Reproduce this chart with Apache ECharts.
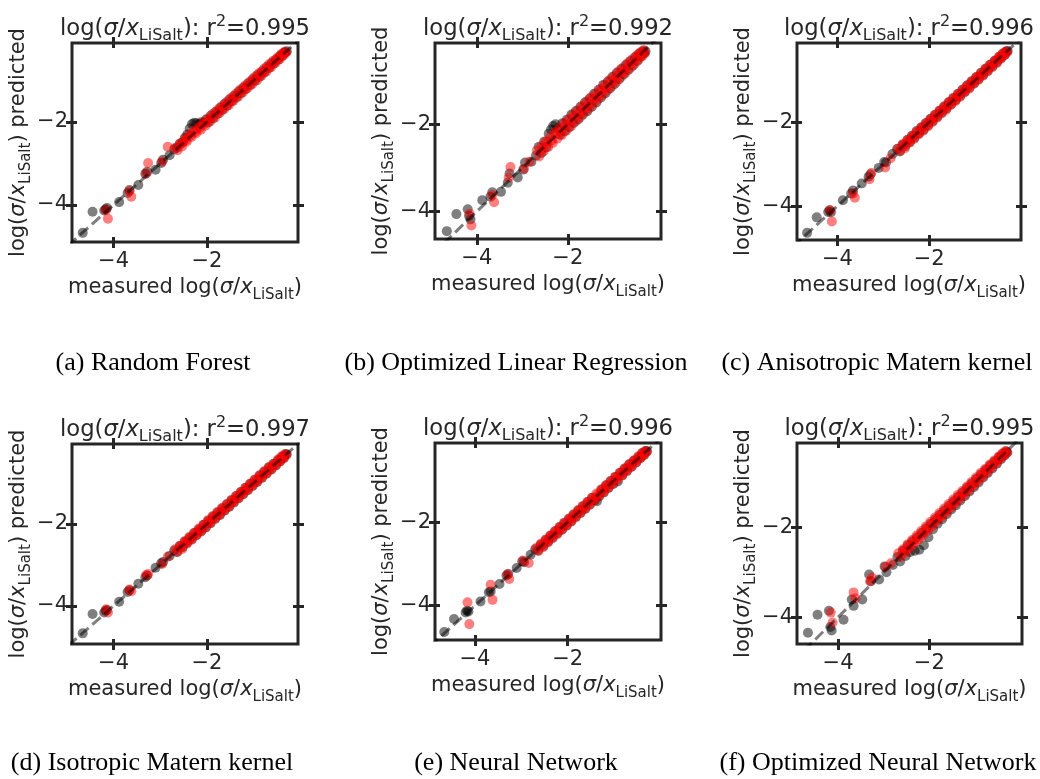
<!DOCTYPE html>
<html>
<head>
<meta charset="utf-8">
<script src="https://cdn.jsdelivr.net/npm/echarts@6/dist/echarts.min.js"></script>
<style>
  html, body { margin: 0; padding: 0; background: #fff; }
  #chart { width: 1040px; height: 779px; }
</style>
</head>
<body>
<div id="chart"></div>
<script>
// measured log(sigma/x) values, same split for every model
const trainMeasured = [
  -4.66, -4.45, -4.20, -4.17, -4.14, -3.88, -3.70, -3.66, -3.47, -3.32, -3.28, -3.10, -2.98, -2.94, -2.80,
  -2.70, -2.64, -2.58, -2.52, -2.47, -2.42, -2.37, -2.32, -2.27, -2.22,
  -2.17, -2.12, -2.07, -2.02, -1.97, -1.92, -1.87, -1.82, -1.77, -1.72,
  -1.67, -1.62, -1.57, -1.52, -1.47, -1.42, -1.37, -1.32, -1.27, -1.22,
  -1.17, -1.12, -1.07, -1.02, -0.97, -0.92, -0.87, -0.82, -0.77, -0.72,
  -0.67, -0.62, -0.57, -0.52, -0.47, -0.43, -0.39, -0.35, -0.32, -0.29
]
const testMeasured = [
  -4.16, -4.12, -3.66, -3.62, -3.30, -3.26, -2.96, -2.84,
  -2.68, -2.63, -2.58, -2.53, -2.48, -2.43, -2.38, -2.33, -2.28, -2.23,
  -2.18, -2.13, -2.08, -2.03, -1.98, -1.93, -1.88, -1.83, -1.78, -1.73,
  -1.68, -1.63, -1.58, -1.53, -1.48, -1.43, -1.38, -1.33, -1.28, -1.23,
  -1.18, -1.13, -1.08, -1.03, -0.98, -0.93, -0.88, -0.83, -0.78, -0.73,
  -0.68, -0.63, -0.58, -0.53, -0.48, -0.44, -0.40, -0.36, -0.33, -0.30,
  -2.55, -2.45, -2.35, -2.25, -2.15, -2.05, -1.95, -1.85, -1.75, -1.65, -1.55, -1.45,
  -1.35, -1.25, -1.15, -1.05, -0.95, -0.85, -0.75, -0.65, -0.55, -0.45, -0.37
]

// predicted values, one list per model
const rfTrain = [
  -4.67, -4.16, -4.13, -4.10, -4.07, -3.93, -3.71, -3.64, -3.52, -3.25, -3.20, -3.15, -2.99, -2.91, -2.80,
  -2.66, -2.62, -2.52, -2.49, -2.38, -2.30, -2.16, -2.05, -2.02, -2.03,
  -2.06, -2.01, -2.02, -1.94, -2.01, -1.85, -1.91, -1.76, -1.80, -1.66,
  -1.71, -1.56, -1.61, -1.46, -1.51, -1.37, -1.41, -1.26, -1.31, -1.17,
  -1.21, -1.07, -1.11, -0.97, -1.01, -0.87, -0.91, -0.78, -0.81, -0.68,
  -0.70, -0.58, -0.60, -0.49, -0.50, -0.40, -0.41, -0.33, -0.33, -0.30
]
const rfTest = [
  -4.12, -4.33, -3.67, -3.80, -3.24, -2.99, -2.95, -2.60,
  -2.62, -2.68, -2.53, -2.59, -2.41, -2.47, -2.31, -2.36, -2.21, -2.27,
  -2.12, -2.19, -2.02, -2.09, -1.92, -1.99, -1.81, -1.90, -1.72, -1.79,
  -1.62, -1.69, -1.52, -1.60, -1.42, -1.49, -1.32, -1.39, -1.22, -1.29,
  -1.12, -1.19, -1.03, -1.09, -0.92, -1.00, -0.82, -0.89, -0.72, -0.79,
  -0.62, -0.69, -0.53, -0.58, -0.44, -0.49, -0.36, -0.40, -0.31, -0.33,
  -2.53, -2.44, -2.33, -2.24, -2.14, -2.04, -1.94, -1.84, -1.74, -1.64, -1.55, -1.44,
  -1.34, -1.24, -1.14, -1.04, -0.94, -0.84, -0.75, -0.65, -0.55, -0.45, -0.37
]
const olrTrain = [
  -4.45, -4.06, -3.95, -4.10, -4.18, -3.74, -3.66, -3.56, -3.55, -3.34, -3.13, -3.22, -3.04, -2.88, -2.86,
  -2.72, -2.52, -2.66, -2.40, -2.53, -2.22, -2.12, -2.04, -2.00, -2.10,
  -2.24, -1.98, -2.16, -1.90, -2.07, -1.78, -1.97, -1.70, -1.89, -1.60,
  -1.78, -1.50, -1.70, -1.41, -1.60, -1.30, -1.50, -1.21, -1.39, -1.10,
  -1.29, -1.02, -1.18, -0.92, -1.08, -0.82, -0.97, -0.73, -0.86, -0.64,
  -0.76, -0.55, -0.66, -0.46, -0.55, -0.38, -0.45, -0.33, -0.38, -0.33
]
const olrTest = [
  -4.05, -4.32, -3.62, -3.79, -3.22, -2.98, -3.02, -2.86,
  -2.60, -2.74, -2.50, -2.62, -2.39, -2.52, -2.28, -2.43, -2.18, -2.33,
  -2.08, -2.25, -1.98, -2.15, -1.88, -2.05, -1.78, -1.94, -1.68, -1.84,
  -1.58, -1.73, -1.48, -1.64, -1.38, -1.53, -1.29, -1.43, -1.19, -1.33,
  -1.09, -1.23, -0.99, -1.13, -0.89, -1.03, -0.79, -0.92, -0.70, -0.82,
  -0.60, -0.72, -0.51, -0.62, -0.42, -0.52, -0.35, -0.44, -0.30, -0.37,
  -2.57, -2.42, -2.37, -2.22, -2.17, -2.03, -1.97, -1.83, -1.77, -1.63, -1.57, -1.43,
  -1.37, -1.23, -1.17, -1.03, -0.97, -0.83, -0.77, -0.63, -0.57, -0.44, -0.38
]
const anisoTrain = [
  -4.64, -4.27, -4.14, -4.10, -4.15, -3.86, -3.70, -3.63, -3.46, -3.30, -3.24, -3.09, -2.95, -2.96, -2.76,
  -2.64, -2.70, -2.53, -2.57, -2.42, -2.47, -2.32, -2.37, -2.21, -2.27,
  -2.12, -2.18, -2.02, -2.07, -1.92, -1.97, -1.82, -1.87, -1.72, -1.77,
  -1.62, -1.67, -1.52, -1.57, -1.42, -1.47, -1.32, -1.37, -1.22, -1.27,
  -1.12, -1.17, -1.02, -1.07, -0.92, -0.97, -0.82, -0.87, -0.72, -0.77,
  -0.63, -0.67, -0.53, -0.57, -0.44, -0.47, -0.36, -0.39, -0.31, -0.30
]
const anisoTest = [
  -4.10, -4.37, -3.70, -3.80, -3.36, -3.21, -3.08, -2.86,
  -2.63, -2.68, -2.53, -2.62, -2.43, -2.49, -2.33, -2.40, -2.23, -2.29,
  -2.13, -2.20, -2.03, -2.10, -1.93, -2.00, -1.83, -1.89, -1.73, -1.79,
  -1.63, -1.70, -1.53, -1.59, -1.43, -1.50, -1.33, -1.40, -1.23, -1.29,
  -1.13, -1.20, -1.03, -1.09, -0.93, -0.99, -0.83, -0.89, -0.73, -0.79,
  -0.63, -0.69, -0.54, -0.59, -0.44, -0.49, -0.36, -0.40, -0.31, -0.33,
  -2.54, -2.45, -2.34, -2.25, -2.14, -2.05, -1.94, -1.85, -1.74, -1.65, -1.54, -1.45,
  -1.34, -1.25, -1.14, -1.05, -0.94, -0.85, -0.74, -0.65, -0.54, -0.45, -0.37
]
const isoTrain = [
  -4.67, -4.20, -4.16, -4.12, -4.10, -3.90, -3.66, -3.62, -3.46, -3.30, -3.26, -3.07, -2.96, -2.93, -2.78,
  -2.65, -2.69, -2.54, -2.57, -2.43, -2.46, -2.33, -2.37, -2.22, -2.27,
  -2.13, -2.17, -2.02, -2.08, -1.92, -1.98, -1.82, -1.87, -1.72, -1.78,
  -1.62, -1.67, -1.52, -1.58, -1.42, -1.47, -1.32, -1.37, -1.22, -1.27,
  -1.12, -1.17, -1.02, -1.07, -0.92, -0.97, -0.82, -0.87, -0.72, -0.77,
  -0.62, -0.67, -0.53, -0.57, -0.44, -0.47, -0.36, -0.39, -0.30, -0.30
]
const isoTest = [
  -4.08, -4.16, -3.60, -3.64, -3.25, -3.22, -2.98, -2.80,
  -2.62, -2.67, -2.53, -2.61, -2.42, -2.48, -2.32, -2.39, -2.22, -2.28,
  -2.12, -2.19, -2.02, -2.09, -1.91, -1.98, -1.81, -1.88, -1.71, -1.78,
  -1.61, -1.68, -1.52, -1.58, -1.42, -1.48, -1.32, -1.38, -1.22, -1.28,
  -1.12, -1.18, -1.02, -1.08, -0.92, -0.98, -0.82, -0.88, -0.72, -0.78,
  -0.62, -0.68, -0.53, -0.58, -0.43, -0.48, -0.35, -0.40, -0.30, -0.32,
  -2.55, -2.44, -2.35, -2.24, -2.15, -2.04, -1.95, -1.84, -1.75, -1.64, -1.55, -1.44,
  -1.35, -1.24, -1.15, -1.04, -0.95, -0.84, -0.75, -0.64, -0.55, -0.45, -0.37
]
const nnTrain = [
  -4.63, -4.32, -4.16, -4.12, -4.14, -3.90, -3.68, -3.66, -3.48, -3.28, -3.24, -3.10, -2.94, -2.96, -2.78,
  -2.65, -2.68, -2.54, -2.57, -2.43, -2.47, -2.33, -2.37, -2.22, -2.27,
  -2.12, -2.18, -2.02, -2.08, -1.92, -1.98, -1.82, -1.87, -1.72, -1.78,
  -1.62, -1.68, -1.52, -1.58, -1.42, -1.48, -1.50, -1.38, -1.22, -1.29,
  -1.12, -1.18, -1.02, -1.09, -0.92, -1.03, -0.82, -0.88, -0.72, -0.77,
  -0.62, -0.67, -0.53, -0.57, -0.44, -0.47, -0.35, -0.39, -0.30, -0.31
]
const nnTest = [
  -3.92, -4.44, -3.50, -3.86, -3.25, -3.36, -2.92, -2.98,
  -2.62, -2.69, -2.52, -2.60, -2.42, -2.49, -2.32, -2.39, -2.22, -2.29,
  -2.12, -2.19, -2.02, -2.09, -1.92, -1.99, -1.82, -1.89, -1.72, -1.78,
  -1.62, -1.69, -1.52, -1.59, -1.42, -1.49, -1.32, -1.39, -1.22, -1.29,
  -1.12, -1.19, -1.02, -1.09, -0.92, -0.99, -0.82, -0.89, -0.72, -0.79,
  -0.62, -0.69, -0.53, -0.58, -0.43, -0.48, -0.35, -0.40, -0.30, -0.32,
  -2.54, -2.45, -2.34, -2.25, -2.14, -2.05, -1.94, -1.85, -1.74, -1.65, -1.54, -1.45,
  -1.34, -1.25, -1.14, -1.05, -0.94, -0.85, -0.74, -0.65, -0.54, -0.45, -0.37
]
const optNnTrain = [
  -4.35, -3.95, -3.86, -4.22, -4.30, -4.06, -3.61, -3.75, -3.61, -3.05, -3.20, -3.16, -2.87, -3.00, -2.84,
  -2.66, -2.76, -2.52, -2.64, -2.40, -2.55, -2.31, -2.52, -2.22, -2.50,
  -2.12, -2.40, -2.02, -2.22, -1.92, -2.04, -1.82, -1.92, -1.72, -1.82,
  -1.62, -1.71, -1.52, -1.60, -1.42, -1.51, -1.32, -1.40, -1.22, -1.30,
  -1.12, -1.20, -1.02, -1.10, -0.92, -1.00, -0.82, -0.89, -0.72, -0.79,
  -0.62, -0.69, -0.53, -0.58, -0.43, -0.48, -0.36, -0.40, -0.31, -0.33
]
const optNnTest = [
  -3.90, -4.12, -3.45, -3.58, -3.20, -3.12, -2.88, -2.80,
  -2.58, -2.66, -2.49, -2.57, -2.38, -2.46, -2.28, -2.36, -2.18, -2.27,
  -2.08, -2.17, -1.98, -2.07, -1.88, -1.97, -1.78, -1.86, -1.68, -1.77,
  -1.58, -1.67, -1.48, -1.57, -1.38, -1.47, -1.28, -1.37, -1.19, -1.27,
  -1.09, -1.17, -0.99, -1.07, -0.89, -0.97, -0.79, -0.87, -0.70, -0.77,
  -0.60, -0.67, -0.51, -0.57, -0.42, -0.47, -0.35, -0.39, -0.30, -0.33,
  -2.52, -2.43, -2.33, -2.23, -2.13, -2.03, -1.93, -1.83, -1.73, -1.63, -1.53, -1.43,
  -1.33, -1.23, -1.13, -1.03, -0.93, -0.83, -0.73, -0.63, -0.53, -0.44, -0.37
]

const trainPredicted = [rfTrain, olrTrain, anisoTrain, isoTrain, nnTrain, optNnTrain]
const testPredicted = [rfTest, olrTest, anisoTest, isoTest, nnTest, optNnTest]
const r2Scores = ['0.995', '0.992', '0.996', '0.997', '0.996', '0.995']
const captions = [
  '(a) Random Forest',
  '(b) Optimized Linear Regression',
  '(c) Anisotropic Matern kernel',
  '(d) Isotropic Matern kernel',
  '(e) Neural Network',
  '(f) Optimized Neural Network'
]
const xLimits = [[-4.89, -0.05], [-4.92, 0.05], [-4.88, 0.0], [-4.89, -0.05], [-4.86, 0.01], [-4.90, 0.03]]
const yLimits = [[-4.89, -0.10], [-4.63, -0.14], [-4.81, -0.11], [-4.93, -0.05], [-4.82, -0.11], [-4.60, -0.12]]
const tickValues = [-4, -2]
const identityLine = [-6, 1]

// layout: plot boxes [left, top, width, height] and caption centres
const boxes = [
  [72, 43, 226, 199], [435, 43, 226, 196], [797, 43, 224, 197],
  [72, 444, 226, 200], [435, 443, 226, 197], [797, 443, 225, 201]
]
const captionPos = [[153, 348], [516, 348], [877, 348], [152, 748], [516, 748], [878, 748]]

const INK = '#262626'
const FONT = 'DejaVu Sans'

function mathRich(size) {
  const small = Math.round(size * 0.7)
  return {
    it: { fontFamily: FONT, fontSize: size, fontStyle: 'italic', color: INK, lineHeight: 30 },
    sub: { fontFamily: FONT, fontSize: small, color: INK, lineHeight: 18, verticalAlign: 'bottom' },
    sup: { fontFamily: FONT, fontSize: small, color: INK, lineHeight: 18, verticalAlign: 'top' }
  }
}
const logLabel = 'log({it|σ}/{it|x}{sub|LiSalt})'

function makeAxis(gridIndex, position, limits, main) {
  const horiz = position === 'bottom' || position === 'top'
  return {
    type: 'value',
    gridIndex,
    position,
    min: limits[0],
    max: limits[1],
    offset: -5,
    axisLine: { show: false, onZero: false },
    splitLine: { show: false },
    axisTick: { show: true, inside: false, length: 11, customValues: tickValues, lineStyle: { color: INK, width: 3 } },
    axisLabel: {
      show: main,
      customValues: tickValues,
      margin: horiz ? 14 : 9,
      fontFamily: FONT,
      fontSize: 21,
      color: INK,
      formatter: (v) => String(v).replace('-', '\u2212')
    },
    name: main ? (horiz ? 'measured ' + logLabel : logLabel + ' predicted') : '',
    nameLocation: 'middle',
    nameGap: horiz ? 36 : 40,
    nameRotate: horiz ? 0 : 90,
    nameTextStyle: { fontFamily: FONT, fontSize: 21, color: INK, lineHeight: 30, rich: mathRich(21) }
  }
}

const grid = []
const xAxis = []
const yAxis = []
const series = []
const title = []

boxes.forEach((b, i) => {
  grid.push({ left: b[0], top: b[1], width: b[2], height: b[3], show: true, borderColor: INK, borderWidth: 3, backgroundColor: 'transparent' })
  xAxis.push(makeAxis(i, 'bottom', xLimits[i], true), makeAxis(i, 'top', xLimits[i], false))
  yAxis.push(makeAxis(i, 'left', yLimits[i], true), makeAxis(i, 'right', yLimits[i], false))

  series.push({
    type: 'scatter',
    xAxisIndex: 2 * i,
    yAxisIndex: 2 * i,
    silent: true,
    symbolSize: 10,
    itemStyle: { color: '#000', opacity: 0.5 },
    data: trainMeasured.map((m, k) => [m, trainPredicted[i][k]])
  })
  series.push({
    type: 'scatter',
    xAxisIndex: 2 * i,
    yAxisIndex: 2 * i,
    silent: true,
    symbolSize: 10,
    itemStyle: { color: '#ff0000', opacity: 0.5 },
    data: testMeasured.map((m, k) => [m, testPredicted[i][k]])
  })
  series.push({
    type: 'line',
    xAxisIndex: 2 * i,
    yAxisIndex: 2 * i,
    silent: true,
    clip: true,
    symbol: 'none',
    lineStyle: { color: '#000', opacity: 0.5, width: 3, type: [11, 5] },
    data: identityLine.map((v) => [v, v])
  })

  title.push({
    text: logLabel + ': r{sup|2}=' + r2Scores[i],
    left: b[0] + b[2] / 2,
    top: b[1] - 29,
    textAlign: 'center',
    padding: 0,
    textStyle: { fontFamily: FONT, fontSize: 22.7, fontWeight: 'normal', color: INK, lineHeight: 30, rich: mathRich(22.7) }
  })
  title.push({
    text: captions[i],
    left: captionPos[i][0],
    top: captionPos[i][1],
    textAlign: 'center',
    padding: 0,
    textStyle: { fontFamily: 'Liberation Serif', fontSize: 26, fontWeight: 'normal', color: '#000', lineHeight: 30 }
  })
})

const chart = echarts.init(document.getElementById('chart'))
chart.setOption({ animation: false, backgroundColor: '#fff', title, grid, xAxis, yAxis, series })
</script>
</body>
</html>
